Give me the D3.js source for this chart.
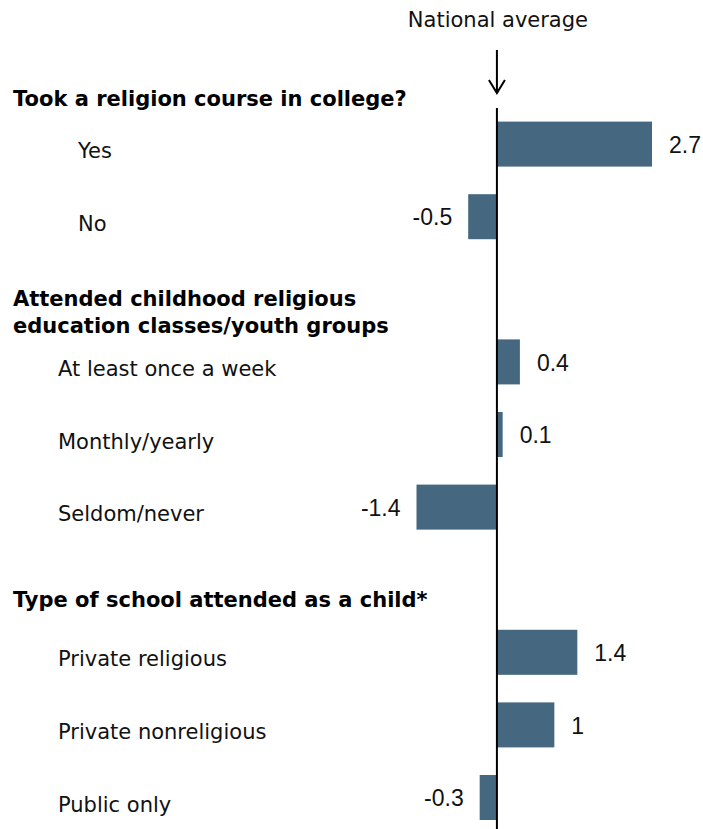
<!DOCTYPE html>
<html>
<head>
<meta charset="utf-8">
<script src="https://cdn.jsdelivr.net/npm/d3@7"></script>
<style>
    body { margin: 0; background: #fff; }
    svg { display: block; }
</style>
</head>
<body>
<svg id="chart" width="703" height="829"></svg>
<script>
// data
var groupTitles = [
    ["Took a religion course in college?"],
    ["Attended childhood religious", "education classes/youth groups"],
    ["Type of school attended as a child*"]
];
var categories = [
    ["Yes", "No"],
    ["At least once a week", "Monthly/yearly", "Seldom/never"],
    ["Private religious", "Private nonreligious", "Public only"]
];
var values = [
    [2.7, -0.5],
    [0.4, 0.1, -1.4],
    [1.4, 1, -0.3]
];
var refLabel = "National average";

// layout bits
var labelIndent = [78, 58, 58];
var titleShift = [34, 44, 27];

window.onload = function () {
    draw();
};

function draw() {
    var svg = d3.select("#chart");
    var barColor = "#45677f";

    // one slot per header and per item
    var rows = [];
    categories.forEach(function (cats, g) {
        rows.push({ type: "title", group: g, key: "t" + g });
        cats.forEach(function (c, i) {
            rows.push({ type: "item", group: g, name: c, value: values[g][i], key: "i" + g + "_" + i });
        });
    });
    var items = rows.filter(function (d) { return d.type == "item"; });
    var titles = rows.filter(function (d) { return d.type == "title"; });

    var y = d3.scalePoint()
        .domain(rows.map(function (d) { return d.key; }))
        .range([71.5, 797.5]);
    var barH = y.step() * 0.62;

    var allVals = [].concat.apply([], values);
    var x = d3.scaleLinear()
        .domain(d3.extent(allVals))
        .range([416.5, 652]);

    // bars
    svg.append("g").selectAll("rect")
        .data(items)
        .enter()
        .append("rect")
        .attr("x", function (d) { return x(Math.min(0, d.value)); })
        .attr("y", function (d) { return y(d.key) - barH / 2; })
        .attr("width", function (d) { return Math.abs(x(d.value) - x(0)); })
        .attr("height", barH)
        .attr("fill", barColor);

    // zero line
    svg.append("line")
        .attr("x1", x(0)).attr("x2", x(0))
        .attr("y1", 108).attr("y2", 829)
        .attr("stroke", "#000")
        .attr("stroke-width", 2);

    // arrow + label
    svg.append("text")
        .attr("x", x(0) + 1)
        .attr("y", 27)
        .attr("text-anchor", "middle")
        .style("font-family", "'DejaVu Sans', Verdana, sans-serif")
        .style("font-size", "21px")
        .attr("fill", "#111")
        .text(refLabel);
    svg.append("path")
        .attr("d", "M" + x(0) + ",50 V93 M" + (x(0) - 8) + ",80 L" + x(0) + ",93 L" + (x(0) + 8) + ",80")
        .attr("fill", "none")
        .attr("stroke", "#000")
        .attr("stroke-width", 2);

    // category labels
    svg.append("g").selectAll("text")
        .data(items)
        .enter()
        .append("text")
        .attr("x", function (d) { return labelIndent[d.group]; })
        .attr("y", function (d) { return y(d.key) + 14; })
        .style("font-family", "'DejaVu Sans', Verdana, sans-serif")
        .style("font-size", "21px")
        .attr("fill", "#111")
        .text(function (d) { return d.name; });

    // group titles
    var t = svg.append("g").selectAll("text")
        .data(titles)
        .enter()
        .append("text")
        .attr("x", 13)
        .attr("y", function (d) {
            var n = groupTitles[d.group].length;
            return y(d.key) + titleShift[d.group] - (n - 1) * 27;
        })
        .style("font-family", "'DejaVu Sans', Verdana, sans-serif")
        .style("font-size", "21px")
        .style("font-weight", "bold")
        .attr("fill", "#000");
    t.selectAll("tspan")
        .data(function (d) { return groupTitles[d.group]; })
        .enter()
        .append("tspan")
        .attr("x", 13)
        .attr("dy", function (d, i) { return i == 0 ? 0 : 27; })
        .text(function (d) { return d; });

    // value labels
    svg.append("g").selectAll("text")
        .data(items)
        .enter()
        .append("text")
        .attr("transform", function (d) {
            var tx = d.value >= 0 ? x(d.value) + 17 : x(d.value) - 16;
            return "translate(" + tx + "," + y(d.key) + ") scale(1,1.06)";
        })
        .attr("dy", "0.36em")
        .attr("text-anchor", function (d) { return d.value >= 0 ? "start" : "end"; })
        .style("font-family", "'Liberation Sans', Arial, sans-serif")
        .style("font-size", "23px")
        .attr("fill", "#111")
        .text(function (d) { return String(d.value); });
}
</script>
</body>
</html>
